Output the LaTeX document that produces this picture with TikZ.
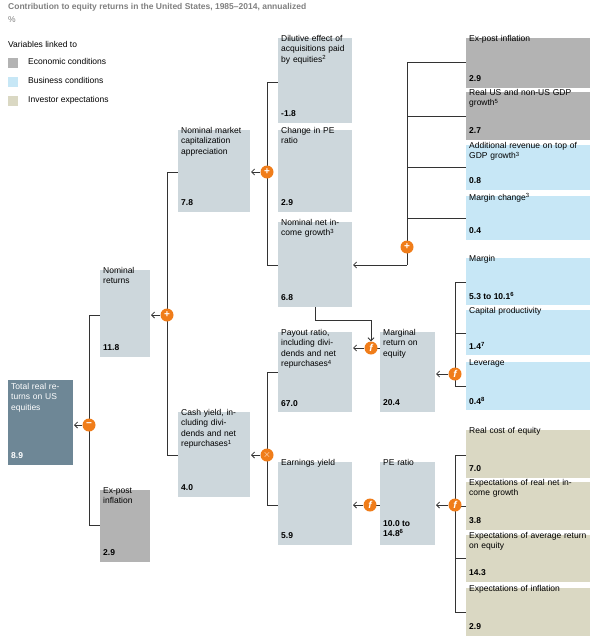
\documentclass[tikz,border=0pt]{standalone}
\usepackage{fontspec}
\setmainfont{Liberation Sans}
\usetikzlibrary{arrows.meta}
\definecolor{dk}{HTML}{6E8796}
\definecolor{gy}{HTML}{B3B3B3}
\definecolor{sl}{HTML}{CDD7DC}
\definecolor{bl}{HTML}{C7E7F6}
\definecolor{tn}{HTML}{DAD8C3}
\definecolor{og}{HTML}{F07D1A}
\definecolor{ln}{HTML}{333333}
\newcommand{\bx}[8]{%
  \path[fill=#6] (#2,#3) rectangle (#4,#5);
  \coordinate (#1nw) at (#2,#3);
  \node[lbl,text width={(#4-#2-6)*1pt}] (#1t) at ($(#2,#3)+(3,-3)$) {#7};
  \node[lbl,font=\fontsize{8.5}{10}\selectfont\bfseries] (#1v) at ($(#2,#5)+(3,-13)$) {#8};
}
\usetikzlibrary{calc}
\begin{document}
\begin{tikzpicture}[x=1pt,y=-1pt,
  lbl/.style={anchor=north west,inner sep=0pt,align=left,font=\fontsize{8.5}{10.5}\selectfont},
  con/.style={draw=ln,line width=0.8pt},
  arr/.style={con,-{Straight Barb[length=3pt,width=6pt]}},
  op/.style={circle,fill=og,text=white,inner sep=0pt,minimum size=13pt,font=\bfseries\fontsize{10}{10}\selectfont}]
\useasboundingbox (0,0) rectangle (600,642);
\node[lbl,text=gray,font=\bfseries\fontsize{8.5}{10}\selectfont] (title) at (8,3) {Contribution to equity returns in the United States, 1985–2014, annualized};
\node[lbl,text=gray] (pct) at (8,16) {\%};
\node[lbl] (leg) at (8,41) {Variables linked to};
\fill[gy] (8,58) rectangle (18,68); \node[lbl] (l1) at (28,58) {Economic conditions};
\fill[bl] (8,77) rectangle (18,87); \node[lbl] (l2) at (28,77) {Business conditions};
\fill[tn] (8,96) rectangle (18,106); \node[lbl] (l3) at (28,96) {Investor expectations};
% connectors (drawn first)
\draw[con] (100,315) -- (89,315) -- (89,525) -- (100,525);
\draw[con] (178,172) -- (167,172) -- (167,455) -- (178,455);
\draw[con] (278,82) -- (267,82) -- (267,265) -- (278,265);
\draw[con] (278,372) -- (267,372) -- (267,505) -- (278,505);
\draw[con] (466,62) -- (407,62) -- (407,265);
\draw[con] (466,116) -- (407,116);
\draw[con] (466,167) -- (407,167);
\draw[con] (466,218) -- (407,218);
\draw[con] (466,282) -- (455,282) -- (455,386) -- (466,386);
\draw[con] (466,333) -- (455,333);
\draw[con] (466,455) -- (455,455) -- (455,612) -- (466,612);
\draw[con] (466,506) -- (455,506);
\draw[con] (466,558) -- (455,558);
\draw[arr] (407,265) -- (353,265);
\draw[con] (380,348) -- (371,348);
\draw[con] (380,505) -- (370,505);
\draw[con] (315,307) -- (315,320) -- (371,320) -- (371,336);
% boxes
\path[fill=dk] (8,380) rectangle (73,465);
\node[lbl,text=white,text width=60pt] (tot) at (11,383) {Total real returns on US equities};
\node[lbl,text=white,font=\fontsize{8.5}{10}\selectfont\bfseries] (totv) at (11,452) {8.9};
\bx{exl}{100}{490}{150}{562}{gy}{Ex-post inflation}{2.9}
\bx{nr}{100}{270}{150}{357}{sl}{Nominal returns}{11.8}
\bx{nm}{178}{130}{250}{212}{sl}{Nominal market capitalization appreciation}{7.8}
\bx{cy}{178}{412}{250}{497}{sl}{Cash yield, including dividends and net repurchases\textsuperscript{1}}{}
\node[lbl,font=\fontsize{8.5}{10}\selectfont\bfseries] (cyv2) at (181,484) {4.0};
\bx{di}{278}{38}{352}{123}{sl}{Dilutive effect of acquisitions paid by equities\textsuperscript{2}}{}
\node[lbl,font=\fontsize{8.5}{10}\selectfont\bfseries] (div2) at (281,110) {-1.8};
\bx{pe}{278}{130}{352}{212}{sl}{Change in PE ratio}{2.9}
\bx{ni}{278}{222}{352}{307}{sl}{Nominal net income growth\textsuperscript{3}}{6.8}
\bx{po}{278}{332}{352}{412}{sl}{Payout ratio, including dividends and net repurchases\textsuperscript{4}}{}
\node[lbl,font=\fontsize{8.5}{10}\selectfont\bfseries] (pov2) at (281,400) {67.0};
\bx{ey}{278}{462}{352}{545}{sl}{Earnings yield}{5.9}
\bx{mr}{380}{332}{435}{412}{sl}{Marginal return on equity}{20.4}
\bx{pr}{380}{462}{435}{545}{sl}{PE ratio}{}
\node[lbl,font=\fontsize{8.5}{10}\selectfont\bfseries] (prv2) at (383,520) {10.0 to\\14.8\textsuperscript{6}};
\bx{r1}{466}{38}{590}{88}{gy}{Ex-post inflation}{2.9}
\bx{r2}{466}{92}{590}{140}{gy}{Real US and non-US GDP growth\textsuperscript{5}}{2.7}
\bx{r3}{466}{145}{590}{190}{bl}{Additional revenue on top of GDP growth\textsuperscript{3}}{0.8}
\bx{r4}{466}{196}{590}{240}{bl}{Margin change\textsuperscript{3}}{0.4}
\bx{r5}{466}{258}{590}{305}{bl}{Margin}{5.3 to 10.1\textsuperscript{6}}
\bx{r6}{466}{310}{590}{355}{bl}{Capital productivity}{1.4\textsuperscript{7}}
\bx{r7}{466}{362}{590}{410}{bl}{Leverage}{0.4\textsuperscript{8}}
\bx{r8}{466}{430}{590}{478}{tn}{Real cost of equity}{7.0}
\bx{r9}{466}{482}{590}{530}{tn}{Expectations of real net income growth}{3.8}
\bx{r10}{466}{535}{590}{582}{tn}{Expectations of average return on equity}{14.3}
\bx{r11}{466}{588}{590}{636}{tn}{Expectations of inflation}{2.9}
% operators
\node[op] (o1) at (89,425) {\textminus};
\node[op] (o2) at (167,315) {+};
\node[op] (o3) at (267,172) {+};
\node[op] (o4) at (267,455) {$\times$};
\node[op] (o5) at (407,247) {+};
\node[op] (o6) at (371,348) {\itshape f};
\node[op] (o7) at (455,374) {\itshape f};
\node[op] (o8) at (370,505) {\itshape f};
\node[op] (o9) at (455,505) {\itshape f};
\draw[arr] (o1) -- (74,425);
\draw[arr] (o2) -- (151,315);
\draw[arr] (o3) -- (251,172);
\draw[arr] (o4) -- (251,455);
\draw[arr] (o6) -- (353,348);
\draw[arr] (o7) -- (436,374);
\draw[arr] (o8) -- (353,505);
\draw[arr] (o9) -- (436,505);
\draw[arr] (371,330) -- (o6);
\end{tikzpicture}
\end{document}
